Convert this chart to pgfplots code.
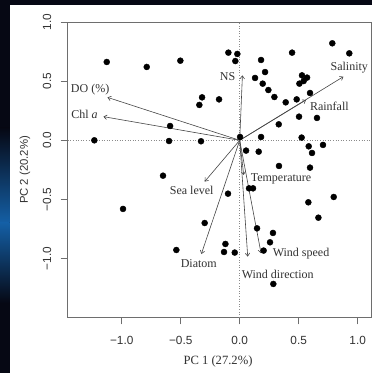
\documentclass[border=0pt]{standalone}
\usepackage{fontspec}
\setmainfont{Liberation Serif}
\newfontfamily\sansfont{Liberation Sans}
\usepackage{pgfplots}
\pgfplotsset{compat=1.18}
\usetikzlibrary{arrows.meta}
\definecolor{bgdark}{RGB}{6,8,20}
\definecolor{glow}{RGB}{20,95,165}
\definecolor{boxcol}{RGB}{110,110,110}
\definecolor{arrcol}{RGB}{70,70,70}
\definecolor{txtcol}{RGB}{50,50,50}
\tikzset{
  arr/.style={arrcol, line width=0.6pt, -{Straight Barb[length=3pt,width=4.5pt]}},
  lab/.style={font=\fontsize{12}{14}\selectfont, text=txtcol, inner sep=0pt}
}
\begin{document}
\begin{tikzpicture}[x=1pt,y=1pt]
\useasboundingbox (0,0) rectangle (372,373);
\fill[bgdark] (0,0) rectangle (372,373);
\shade[top color=bgdark, bottom color=glow] (0,150) rectangle (9.7,245);
\shade[top color=glow, bottom color=bgdark] (0,70) rectangle (9.7,150);
\fill[white] (9.7,0) rectangle (372,368.3);
\begin{axis}[
  at={(67.7pt,55.7pt)}, anchor=south west,
  scale only axis, width=303.3pt, height=295.3pt,
  xmin=-1.458, xmax=1.113, ymin=-1.496, ymax=1.0,
  axis line style={boxcol, line width=0.8pt},
  xtick={-1,-0.5,0,0.5,1},
  xticklabels={−1.0,−0.5,0.0,0.5,1.0},
  ytick={-1,-0.5,0,0.5,1},
  yticklabels={−1.0,−0.5,0.0,0.5,1.0},
  xtick pos=bottom, ytick pos=left,
  tick align=outside,
  major tick length=7pt,
  tick style={boxcol, line width=0.7pt},
  ticklabel style={font=\sansfont\fontsize{11.8}{13}\selectfont, text=txtcol},
  xticklabel style={anchor=north},
  yticklabel style={rotate=90, anchor=south},
  xticklabel shift=8pt,
  yticklabel shift=6pt,
  clip=true,
]
% reference lines
\addplot[boxcol!80, dotted, line width=0.6pt] coordinates {(-1.458,0) (1.113,0)};
\addplot[boxcol!80, dotted, line width=0.6pt] coordinates {(0,-1.496) (0,1.0)};
% arrows
\addplot[arr] coordinates {(0,0) (0.023,0.549)};
\addplot[arr] coordinates {(0,0) (0.879,0.538)};
\addplot[arr] coordinates {(0,0) (0.562,0.341)};
\addplot[arr] coordinates {(0,0) (-1.121,0.363)};
\addplot[arr] coordinates {(0,0) (-1.155,0.200)};
\addplot[arr] coordinates {(0,0) (-0.297,-0.349)};
\addplot[arr] coordinates {(0,0) (-0.325,-0.961)};
\addplot[arr] coordinates {(0,0) (0.034,-0.293)};
\addplot[arr] coordinates {(0,0) (0.068,-0.983)};
\addplot[arr] coordinates {(0,0) (0.181,-0.955)};
% sites
\addplot[only marks, mark=*, mark size=3pt, black] coordinates {
(-1.127,0.662) (-0.788,0.620) (-0.503,0.673) (-0.096,0.741) (-0.020,0.730)
(-0.037,0.670) (0.181,0.679) (0.203,1.005) (0.444,0.741) (0.785,0.820)
(0.929,0.735) (0.215,0.577) (0.130,0.527) (0.195,0.479) (0.243,0.425)
(0.294,0.366) (0.390,0.321) (0.483,0.346) (0.528,0.549) (0.571,0.530)
(0.542,0.501) (0.506,0.479) (0.596,0.400) (0.503,0.200) (0.655,0.189)
(0.331,0.135) (-0.319,0.363) (-0.342,0.299) (-0.175,0.346) (-0.590,0.121)
(-1.232,0.0) (-0.599,-0.006) (-0.328,-0.008) (0.003,0.028) (0.181,0.028)
(0.525,0.023) (0.054,-0.087) (0.161,-0.096) (0.585,-0.051) (0.613,-0.107)
(0.706,-0.039) (0.333,-0.217) (0.596,-0.231) (-0.650,-0.299) (0.079,-0.406)
(0.113,-0.406) (-0.099,-0.451) (0.582,-0.524) (0.797,-0.479) (-0.989,-0.580)
(0.667,-0.654) (-0.297,-0.699) (0.147,-0.744) (0.282,-0.783) (0.257,-0.862)
(-0.121,-0.876) (-0.537,-0.927) (-0.133,-0.944) (-0.042,-0.949) (0.203,-0.932)
(0.285,-1.214)
};
% variable labels
\node[lab] at (axis cs:-0.102,0.538) {NS};
\node[lab] at (axis cs:0.929,0.614) {Salinity};
\node[lab] at (axis cs:0.760,0.290) {Rainfall};
\node[lab] at (axis cs:-1.268,0.431) {DO (\%)};
\node[lab] at (axis cs:-1.316,0.220) {Chl \textit{a}};
\node[lab] at (axis cs:-0.407,-0.420) {Sea level};
\node[lab] at (axis cs:-0.347,-1.039) {Diatom};
\node[lab] at (axis cs:0.350,-0.324) {Temperature};
\node[lab] at (axis cs:0.520,-0.961) {Wind speed};
\node[lab] at (axis cs:0.322,-1.130) {Wind direction};
\end{axis}
\node[font=\sansfont\fontsize{11.3}{13}\selectfont, text=txtcol, rotate=90] at (25,203) {PC 2 (20.2\%)};
\node[font=\fontsize{12.6}{14}\selectfont, text=txtcol] at (218,12) {PC 1 (27.2\%)};
\end{tikzpicture}
\end{document}
